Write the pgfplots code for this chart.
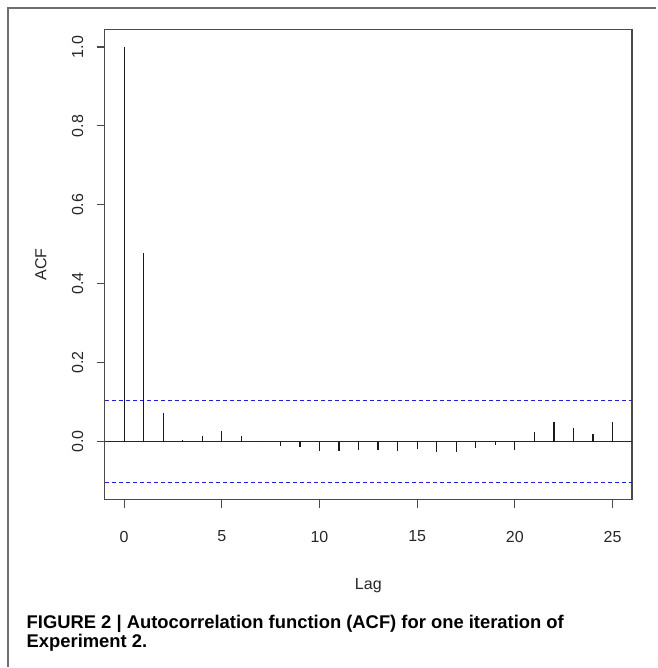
\documentclass[border=0pt]{standalone}
\usepackage{fontspec}
\setmainfont{Liberation Sans}
\usepackage{pgfplots}
\pgfplotsset{compat=1.18}
\definecolor{framegray}{HTML}{4A4A4A}
\definecolor{rblue}{HTML}{2020D0}
\begin{document}
\begin{tikzpicture}[x=1pt,y=1pt]
\path (0,0) rectangle (657,668);
% outer frame (only top and left visible)
\draw[framegray!80, line width=1.4pt] (8,0) -- (8,660) -- (657,660);
\begin{axis}[
  at={(104.7pt,167.9pt)}, anchor=south west,
  scale only axis, width=528pt, height=470.4pt,
  xmin=-1, xmax=26, ymin=-0.147, ymax=1.044,
  axis line style={framegray, line width=1.2pt},
  tick style={framegray, line width=1.1pt},
  tick align=outside, major tick length=8pt,
  xtick pos=lower, ytick pos=left,
  xtick={0,5,10,15,20,25},
  ytick={0,0.2,0.4,0.6,0.8,1.0},
  yticklabel style={/pgf/number format/fixed, /pgf/number format/fixed zerofill, /pgf/number format/precision=1},
  /pgf/number format/assume math mode=true,
  tick label style={font=\fontsize{16}{18}\selectfont, color=black!85},
  xticklabel style={anchor=center, yshift=-29pt},
  yticklabel style={xshift=-19pt, rotate=90, anchor=center},
  xlabel={Lag}, ylabel={ACF},
  label style={font=\fontsize{16}{18}\selectfont, color=black!85},
  xlabel style={at={(axis description cs:0.5,-0.1913)}, anchor=base},
  ylabel style={at={(axis description cs:-0.1206,0.5)}, anchor=center},
  clip=false,
]
\addplot[rblue, line width=1.1pt, dash pattern=on 4pt off 3pt] coordinates {(-1,0.104) (26,0.104)};
\addplot[rblue, line width=1.1pt, dash pattern=on 4pt off 3pt] coordinates {(-1,-0.104) (26,-0.104)};
\addplot[black!85, line width=1.1pt] coordinates {(-1,0) (26,0)};
\addplot[ycomb, black!90, line width=1.2pt] coordinates {
(0,1.0) (1,0.477) (2,0.072) (3,0.004) (4,0.013) (5,0.027) (6,0.015) (7,0.001)
(8,-0.011) (9,-0.014) (10,-0.025) (11,-0.024) (12,-0.021) (13,-0.021)
(14,-0.024) (15,-0.019) (16,-0.026) (17,-0.026) (18,-0.017) (19,-0.008)
(20,-0.022) (21,0.025) (22,0.050) (23,0.035) (24,0.018) (25,0.050)};
\end{axis}
\node[anchor=base west, inner sep=0pt, font=\bfseries\fontsize{18.4}{20}\selectfont] at (26.5,39) {FIGURE 2 | Autocorrelation function (ACF) for one iteration of};
\node[anchor=base west, inner sep=0pt, font=\bfseries\fontsize{18.4}{20}\selectfont] at (26.5,19.5) {Experiment 2.};
\end{tikzpicture}
\end{document}
